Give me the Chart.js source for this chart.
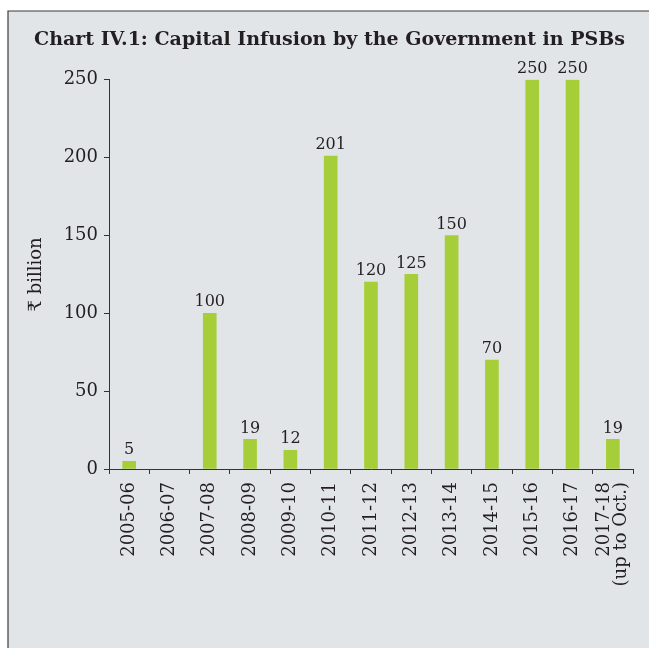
<!doctype html>
<html>
<head>
<title>Capital Infusion by the Government in PSBs</title>
<script src="https://cdn.jsdelivr.net/npm/chart.js@4.4.1/dist/chart.umd.min.js"></script>
<style>
body { margin: 0; background: #fff; }
canvas { display: block; }
</style>
</head>
<body>
<canvas id="canvas" width="649" height="648"></canvas>
<script>
// data
var years = ['2005-06', '2006-07', '2007-08', '2008-09', '2009-10', '2010-11', '2011-12',
             '2012-13', '2013-14', '2014-15', '2015-16', '2016-17', ['2017-18', '(up to Oct.)']];
var infusion = [5, null, 100, 19, 12, 201, 120, 125, 150, 70, 250, 250, 19];
var yTicks = [0, 50, 100, 150, 200, 250];

var serif = "'DejaVu Serif', 'Liberation Serif', serif";
var ink = '#231f20';

// grey panel with a dark edge on top and left
var panelBg = {
	id: 'panelBg',
	beforeDraw: function(chart) {
		var ctx = chart.ctx;
		ctx.save();
		ctx.fillStyle = '#ffffff';
		ctx.fillRect(0, 0, chart.width, chart.height);
		ctx.fillStyle = '#e1e5e8';
		ctx.fillRect(8, 11, chart.width - 8, chart.height - 11);
		ctx.strokeStyle = '#3a3a3a';
		ctx.lineWidth = 1.2;
		ctx.beginPath();
		ctx.moveTo(8, chart.height);
		ctx.lineTo(8, 11);
		ctx.lineTo(chart.width, 11);
		ctx.stroke();
		ctx.restore();
	}
};

// values printed on top of bars
var barValues = {
	id: 'barValues',
	afterDatasetsDraw: function(chart) {
		var ctx = chart.ctx;
		var meta = chart.getDatasetMeta(0);
		ctx.save();
		ctx.font = '16px ' + serif;
		ctx.fillStyle = ink;
		ctx.textAlign = 'center';
		ctx.textBaseline = 'bottom';
		meta.data.forEach(function(bar, i) {
			var v = infusion[i];
			if (v === null) return;
			ctx.fillText(String(v), bar.x, bar.y - 3);
		});
		ctx.restore();
	}
};

// vertical category labels (two-line last label kept centred on its bar)
var xLabels = {
	id: 'xLabels',
	afterDraw: function(chart) {
		var ctx = chart.ctx;
		var xs = chart.scales.x;
		var top = chart.chartArea.bottom + 13;
		var lh = 17;
		ctx.save();
		ctx.font = '18px ' + serif;
		ctx.fillStyle = ink;
		ctx.textAlign = 'right';
		ctx.textBaseline = 'middle';
		years.forEach(function(lab, i) {
			var lines = Array.isArray(lab) ? lab : [lab];
			var x = xs.getPixelForTick(i);
			lines.forEach(function(txt, j) {
				var off = (j - (lines.length - 1) / 2) * lh;
				ctx.save();
				ctx.translate(x + off, top);
				ctx.rotate(-Math.PI / 2);
				ctx.fillText(txt, 0, 0);
				ctx.restore();
			});
		});
		ctx.restore();
	}
};

var ctx = document.getElementById('canvas').getContext('2d');
window.myBar = new Chart(ctx, {
	type: 'bar',
	data: {
		labels: years,
		datasets: [{
			label: 'Capital infusion',
			data: infusion,
			backgroundColor: '#a6ce39',
			borderWidth: 0,
			barThickness: 13
		}]
	},
	options: {
		responsive: false,
		animation: false,
		layout: { padding: { left: 26, right: 16, top: 0, bottom: 0 } },
		plugins: {
			legend: { display: false },
			tooltip: { enabled: false },
			title: {
				display: true,
				text: 'Chart IV.1: Capital Infusion by the Government in PSBs',
				color: ink,
				font: { family: serif, size: 19, weight: 'bold' },
				padding: { top: 29, bottom: 28 }
			}
		},
		scales: {
			x: {
				grid: { display: true, drawOnChartArea: false, drawTicks: true, tickLength: 5, color: '#333' },
				border: { display: true, color: '#333', width: 1 },
				ticks: { display: false },
				afterFit: function(scale) {
					scale.height = 179;
					scale.paddingLeft = 0;
					scale.paddingRight = 0;
				}
			},
			y: {
				min: 0,
				max: 250,
				afterBuildTicks: function(scale) {
					scale.ticks = yTicks.map(function(v) { return { value: v }; });
				},
				grid: { display: true, drawOnChartArea: false, drawTicks: true, tickLength: 5, color: '#333' },
				border: { display: true, color: '#333', width: 1 },
				ticks: { color: ink, padding: 6, font: { family: serif, size: 18 } },
				title: {
					display: true,
					text: '₹ billion',
					color: ink,
					font: { family: serif, size: 18 },
					padding: { top: 0, bottom: 0 }
				},
				afterFit: function(scale) {
					scale.width = 83;
					scale.paddingTop = 0;
					scale.paddingBottom = 0;
				}
			}
		}
	},
	plugins: [panelBg, barValues, xLabels]
});
</script>
</body>
</html>
